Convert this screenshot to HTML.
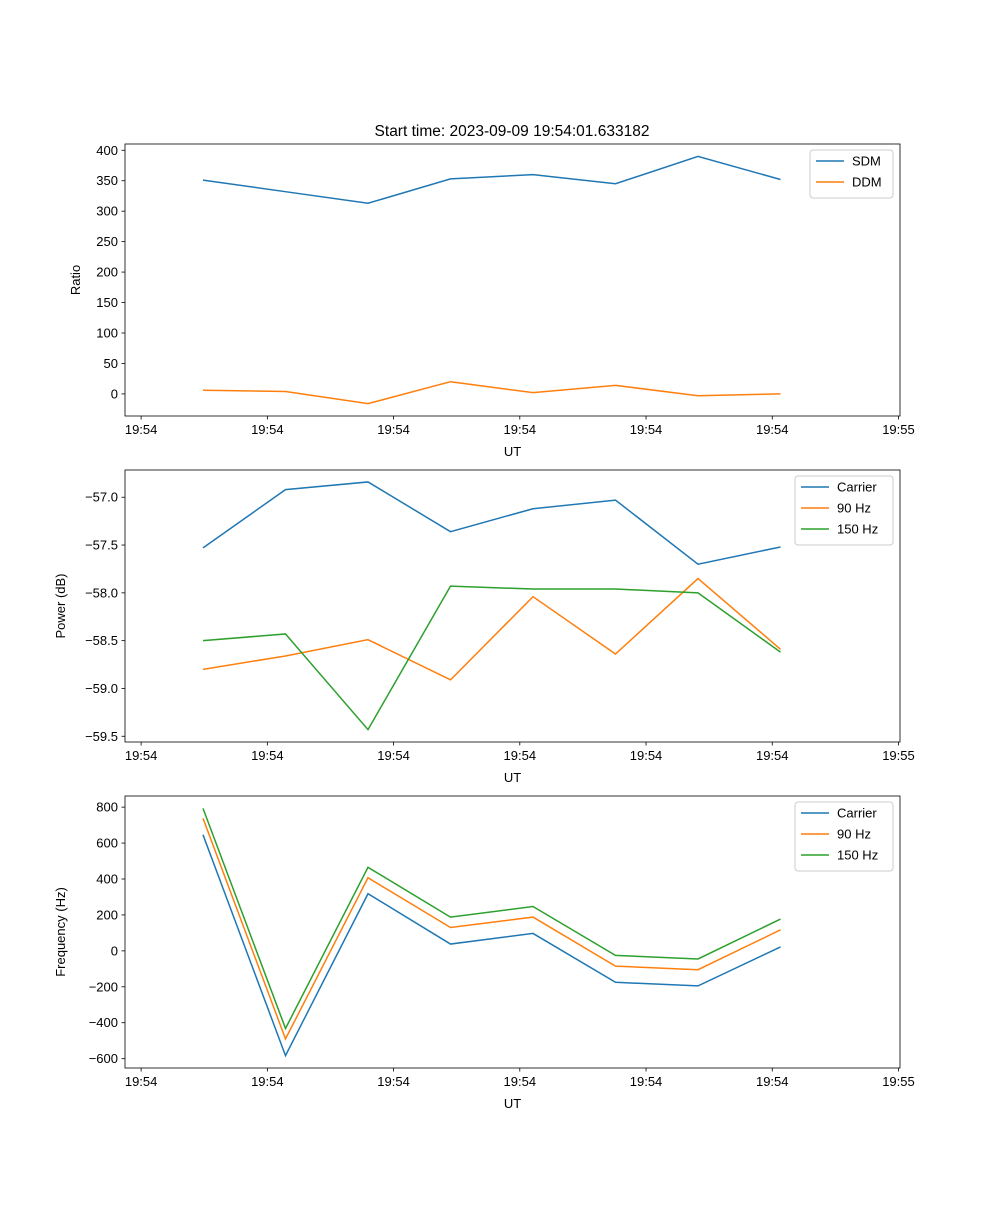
<!DOCTYPE html>
<html><head><meta charset="utf-8"><style>
body{margin:0;background:#fff;}
svg text{font-family:"Liberation Sans","DejaVu Sans",sans-serif;font-size:13px;fill:#000;}
</style></head><body>
<svg id="chart" width="1000" height="1200" xmlns="http://www.w3.org/2000/svg"></svg>
<script>
const tickLabels = ["19:54","19:54","19:54","19:54","19:54","19:54","19:55"];
const sdm = [351,332,313,353,360,345,390,352];
const ddm = [6,4,-16,20,2,14,-3,0];
const pwrCarrier = [-57.53,-56.92,-56.84,-57.36,-57.12,-57.03,-57.70,-57.52];
const pwr90 = [-58.80,-58.66,-58.49,-58.91,-58.04,-58.64,-57.85,-58.59];
const pwr150 = [-58.50,-58.43,-59.43,-57.93,-57.96,-57.96,-58.00,-58.62];
const frqCarrier = [646,-583,318,38,97,-175,-195,22];
const frq90 = [738,-490,407,130,188,-85,-105,117];
const frq150 = [793,-432,465,188,247,-25,-45,177];
const ratioTicks = [0,50,100,150,200,250,300,350,400];
const powerTicks = [-59.5,-59.0,-58.5,-58.0,-57.5,-57.0];
const freqTicks = [-600,-400,-200,0,200,400,600,800];

const svg = document.getElementById('chart');
const NS = 'http://www.w3.org/2000/svg';
const colors = ['#1f77b4','#ff7f0e','#2ca02c'];
const L = 125, R = 900;
function xs(i){ return 203 + 82.5*i; }
function el(tag, attrs, parent){
  const e = document.createElementNS(NS, tag);
  for (const k in attrs) e.setAttribute(k, attrs[k]);
  (parent||svg).appendChild(e); return e;
}
function txt(x,y,s,anchor,parent){
  const t = el('text',{x:x,y:y,'text-anchor':anchor||'middle'},parent); t.textContent = s; return t;
}
function panel(name, top, bottom, ymin, ymax, yticks, fmt, ylabel, series, names, legend){
  const g = el('g',{});
  
  
  const ys = v => bottom - (v - ymin)/(ymax - ymin)*(bottom - top);
  series.forEach((arr, si) => {
    const p = el('polyline',{points: arr.map((v,i)=>xs(i)+','+ys(v)).join(' '), fill:'none', stroke:colors[si], 'stroke-width':1.5}, g);
    
    
  });
  const frame = el('rect',{x:L,y:top,width:R-L,height:bottom-top,fill:'none',stroke:'#000','stroke-width':0.8}, g);
  
  
  yticks.forEach(v => {
    const y = ys(v);
    el('line',{x1:L-3.5,x2:L,y1:y,y2:y,stroke:'#000','stroke-width':0.8}, g);
    const t = txt(L-7, y+4.5, fmt(v), 'end', g);
    
    
  });
  tickLabels.forEach((s,k) => {
    const x = xs(-0.75 + k*1.53);
    el('line',{x1:x,x2:x,y1:bottom,y2:bottom+3.5,stroke:'#000','stroke-width':0.8}, g);
    const t = txt(x, bottom+18, s, 'middle', g);
    
    
  });
  const xl = txt((L+R)/2, bottom+40, 'UT', 'middle', g);
  
  
  const cy = (top+bottom)/2;
  const yl = txt(0,0,ylabel,'middle',g);
  yl.setAttribute('transform','translate('+(name==='ratio'?80:65)+','+cy+') rotate(-90)');
  
  
  const lg = el('g',{}, g);
  
  
  el('rect',{x:legend.x,y:top+6,width:legend.w,height:names.length*21+6,fill:'#fff',stroke:'#ccc',rx:3}, lg);
  names.forEach((n,i) => {
    const y = top+17+i*21;
    el('line',{x1:legend.x+6,x2:legend.x+34,y1:y,y2:y,stroke:colors[i],'stroke-width':1.5}, lg);
    const t = txt(legend.x+42, y+4.5, n, 'start', lg);
    
    
  });
}
const title = txt(512, 136, 'Start time: 2023-09-09 19:54:01.633182', 'middle');


title.setAttribute('style','font-size:15.5px');
panel('ratio', 144, 416, -36.3, 410.3, ratioTicks, v=>String(v), 'Ratio', [sdm, ddm], ['SDM','DDM'], {x:810,w:83});
panel('power', 470, 742, -59.56, -56.715, powerTicks, v=>v.toFixed(1).replace('-','−'), 'Power (dB)', [pwrCarrier, pwr90, pwr150], ['Carrier','90 Hz','150 Hz'], {x:795,w:98});
panel('frequency', 796, 1068, -652, 862, freqTicks, v=>String(v).replace('-','−'), 'Frequency (Hz)', [frqCarrier, frq90, frq150], ['Carrier','90 Hz','150 Hz'], {x:795,w:98});
</script>
</body></html>
